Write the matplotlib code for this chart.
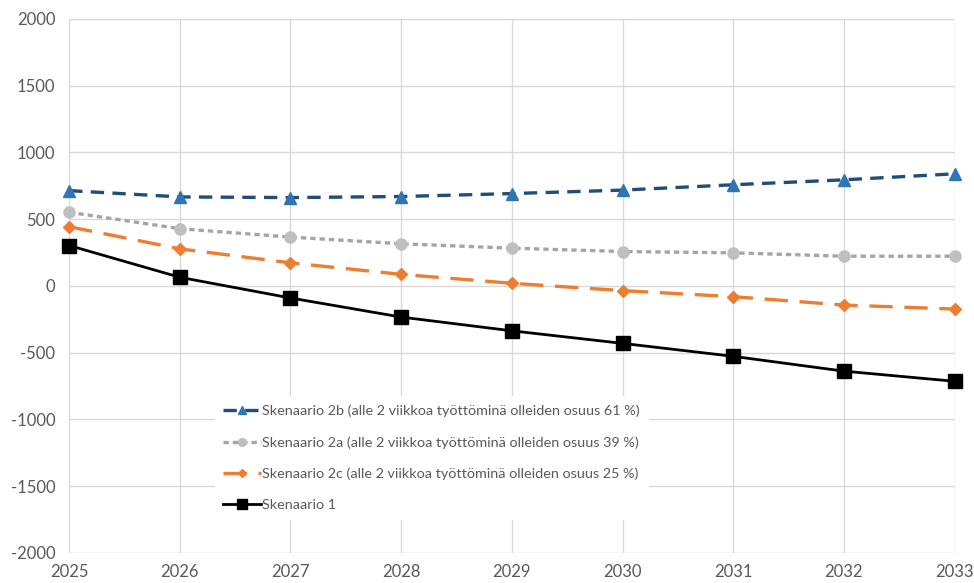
import matplotlib
matplotlib.use("Agg")
import matplotlib.pyplot as plt

# years on the x axis
years = [2025, 2026, 2027, 2028, 2029, 2030, 2031, 2032, 2033]

# series values
s2b = [714, 667, 662, 670, 692, 718, 758, 795, 840]
s2a = [552, 429, 366, 316, 283, 258, 248, 223, 223]
s2c = [444, 278, 173, 87, 20, -35, -80, -143, -173]
s1 = [303, 65, -90, -233, -336, -430, -527, -638, -714]

labels = [
    "Skenaario 2b (alle 2 viikkoa työttöminä olleiden osuus 61 %)",
    "Skenaario 2a (alle 2 viikkoa työttöminä olleiden osuus 39 %)",
    "Skenaario 2c (alle 2 viikkoa työttöminä olleiden osuus 25 %)",
    "Skenaario 1",
]
yticks = [-2000, -1500, -1000, -500, 0, 500, 1000, 1500, 2000]

plt.rcParams["font.family"] = ["Lato", "DejaVu Sans"]
plt.rcParams["axes.unicode_minus"] = False
text_col = "#595959"
grid_col = "#d9d9d9"

fig = plt.figure(figsize=(9.74, 5.83), dpi=100)
ax = fig.add_axes([0.071, 0.0515, 0.909, 0.916])

ax.plot(years, s2b, color="#1f4e79", lw=2.4, ls=(0, (4, 2.5)),
        marker="^", ms=9, mfc="#2e75b6", mec="#2e75b6", label=labels[0],
        zorder=4, clip_on=False)
ax.plot(years, s2a, color="#a5a5a5", lw=2.4, ls=(0, (1.6, 1.2)),
        marker="o", ms=8, mfc="#bfbfbf", mec="#bfbfbf", label=labels[1],
        zorder=3, clip_on=False)
ax.plot(years, s2c, color="#ed7d31", lw=2.4, ls=(0, (7, 3.5)),
        marker="D", ms=6, mfc="#ed7d31", mec="#ed7d31", label=labels[2],
        zorder=3, clip_on=False)
ax.plot(years, s1, color="black", lw=2.0, ls="-",
        marker="s", ms=10, mfc="black", mec="black", label=labels[3],
        zorder=5, clip_on=False)

ax.set_xlim(years[0], years[-1])
ax.set_ylim(-2000, 2000)
ax.set_xticks(years)
ax.set_yticks(yticks)
ax.grid(True, color=grid_col, lw=1)
ax.set_axisbelow(True)
for sp in ax.spines.values():
    sp.set_visible(False)
ax.tick_params(length=0, labelsize=12, colors=text_col, pad=10)
ax.tick_params(axis="x", pad=8)

leg = ax.legend(loc="upper left", bbox_to_anchor=(0.213, 0.333, 0.0, 0.0),
                bbox_transform=fig.transFigure, frameon=True, fontsize=10.4,
                handlelength=2.6, handletextpad=0.1, labelspacing=1.3,
                borderpad=0.6, markerscale=0.7)
leg.get_frame().set_edgecolor("none")
leg.get_frame().set_facecolor("white")
leg.get_frame().set_alpha(1)
for t in leg.get_texts():
    t.set_color(text_col)

fig.savefig("out.png", dpi=100)
